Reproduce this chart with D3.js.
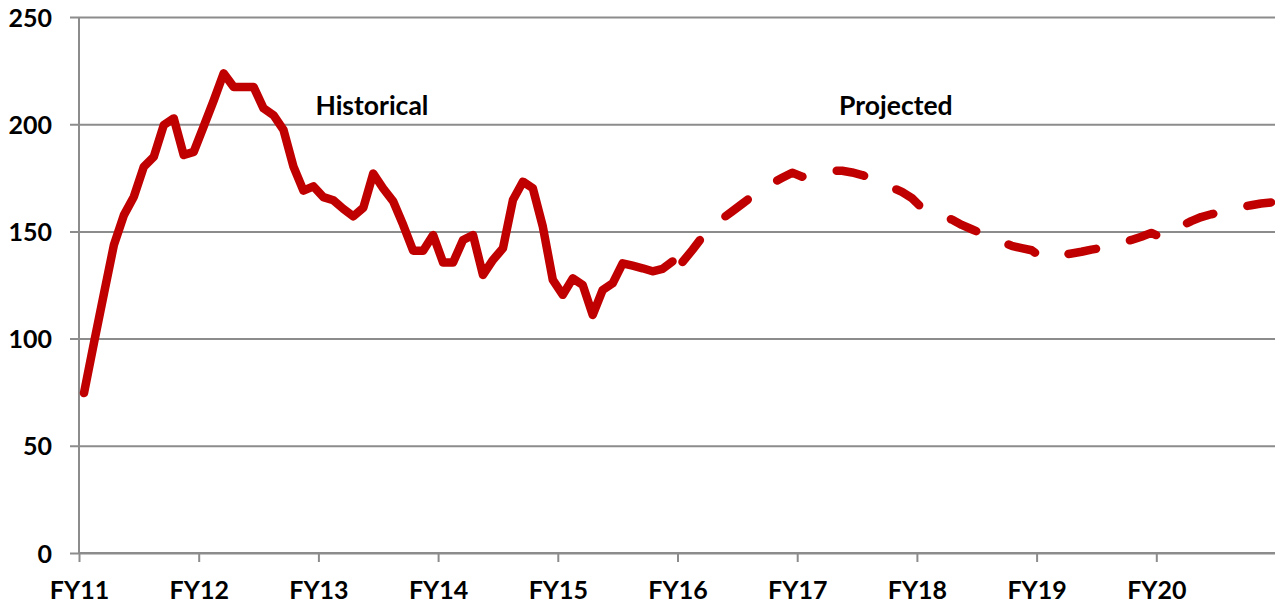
<!DOCTYPE html>
<html lang="en">
<head>
    <meta charset="UTF-8">
    <script type="text/javascript" src="https://cdnjs.cloudflare.com/ajax/libs/d3/7.8.5/d3.min.js"></script>
    <title>Historical vs Projected</title>
    <style type="text/css">
        body {
            margin: 0;
            background-color: white;
        }

        text {
            font-family: Lato, "Open Sans", sans-serif;
            font-weight: bold;
            font-size: 25px;
            fill: #000;
        }

        .note {
            font-size: 26.5px;
        }

        .grid line {
            stroke: #8c8c8c;
            stroke-width: 2;
        }
    </style>
</head>
<body>

<svg id="chart"></svg>

<script>
    // monthly values, FY11 month 0 to FY15 month 11
    var historicalValues = [
        74.6, 98, 121, 143.7, 157.6, 166.2, 180.2, 184.8, 199.6, 202.7, 185.6, 187.1,
        199, 211, 223.7, 217.4, 217.4, 217.4, 207.4, 204.2, 197.3, 180.2, 169, 171,
        166, 164.5, 160.5, 157, 161, 177, 170, 164, 153, 141, 141, 148.3,
        135.5, 135.5, 146, 148.3, 129.7, 136.7, 142.1, 164.6, 173.2, 170.1, 152.2, 127.4,
        120.4, 128.1, 125, 111, 122.7, 125.8, 135.1, 134, 132.8, 131.4, 132.5, 136
    ];
    // monthly values, FY16 month 0 to FY20 month 11
    var projectedValues = [
        135.7, 141.4, 147.5, 152, 156, 159.4, 162.9, 166.5, 169.5, 172.5, 175, 177.4,
        175.5, 177, 177.8, 178.3, 178.3, 177.5, 176.3, 174.5, 172.5, 170.5, 168.4, 165.5,
        161, 159, 157.5, 155.5, 153, 151, 149, 147, 145, 143.3, 142.2, 141.2,
        138, 138.5, 139, 139.7, 140.5, 141.5, 142.3, 143.5, 144.8, 146, 147.5, 149.3,
        147.2, 150, 152.5, 154.8, 156.7, 158, 159, 160.2, 161.3, 162.2, 163, 163.5
    ];
    var fyLabels = ["FY11", "FY12", "FY13", "FY14", "FY15", "FY16", "FY17", "FY18", "FY19", "FY20"];
    var yTicks = [0, 50, 100, 150, 200, 250];
    // annotation text, placed at (month, value)
    var notes = [
        { text: "Historical", month: 23.7, value: 204.5 },
        { text: "Projected", month: 76.2, value: 204.5 }
    ];

    var width = 1275;
    var height = 606;
    var margin = { top: 17, right: 0, bottom: 53, left: 79 };
    var monthsPerYear = 12;
    var totalMonths = fyLabels.length * monthsPerYear;

    var svg = d3.select("#chart")
            .attr("width", width)
            .attr("height", height);

    // scales: months on x (points sit mid-month), values on y
    var x = d3.scaleLinear()
            .domain([0, totalMonths])
            .range([margin.left, margin.left + 1197]);
    var y = d3.scaleLinear()
            .domain([0, 250])
            .range([height - margin.bottom, margin.top]);

    // horizontal gridlines, with the small outward tick on the left
    var yAxis = d3.axisLeft(y)
            .tickValues(yTicks)
            .tickSize(-(width - margin.left))
            .tickSizeOuter(0)
            .tickPadding(27);
    var gy = svg.append("g")
            .attr("class", "grid")
            .attr("transform", "translate(" + margin.left + ",0)")
            .call(yAxis);
    gy.select(".domain").remove();
    gy.selectAll(".tick line").attr("x1", -9);
    gy.selectAll(".tick text").attr("dy", "0.36em");

    // vertical axis line
    svg.append("line")
            .attr("x1", x(0)).attr("x2", x(0))
            .attr("y1", y(250)).attr("y2", y(0))
            .attr("stroke", "#8c8c8c")
            .attr("stroke-width", 2);

    // x axis, one tick per fiscal year
    var xAxis = d3.axisBottom(x)
            .tickValues(d3.range(0, totalMonths, monthsPerYear))
            .tickFormat(function(d, i) { return fyLabels[i]; })
            .tickSize(9)
            .tickSizeOuter(0)
            .tickPadding(14);
    var gx = svg.append("g")
            .attr("class", "grid")
            .attr("transform", "translate(0," + y(0) + ")")
            .call(xAxis);
    gx.select(".domain")
            .attr("stroke", "#8c8c8c")
            .attr("stroke-width", 2)
            .attr("d", "M" + x(0) + ",0H" + width);
    gx.selectAll(".tick text").attr("dy", "0.92em");

    var line = d3.line()
            .x(function(d) { return x(d.month + 0.5); })
            .y(function(d) { return y(d.value); });

    var historical = historicalValues.map(function(v, i) { return { month: i, value: v }; });
    var projected = projectedValues.map(function(v, i) {
        return { month: historicalValues.length + i, value: v };
    });

    svg.append("path")
            .datum(historical)
            .attr("fill", "none")
            .attr("stroke", "#c00000")
            .attr("stroke-width", 8.5)
            .attr("stroke-linejoin", "round")
            .attr("stroke-linecap", "round")
            .attr("d", line);

    svg.append("path")
            .datum(projected)
            .attr("fill", "none")
            .attr("stroke", "#c00000")
            .attr("stroke-width", 8.5)
            .attr("stroke-linejoin", "round")
            .attr("stroke-linecap", "round")
            .attr("stroke-dasharray", "28,35")
            .attr("d", line);

    svg.selectAll(".note")
            .data(notes)
            .enter()
            .append("text")
            .attr("class", "note")
            .attr("x", function(d) { return x(d.month); })
            .attr("y", function(d) { return y(d.value); })
            .text(function(d) { return d.text; });
</script>

</body>
</html>
